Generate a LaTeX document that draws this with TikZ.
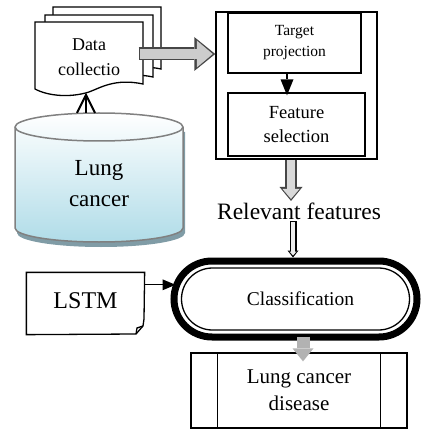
\documentclass[tikz,border=0pt]{standalone}
\usepackage{fontspec}
\setmainfont{Liberation Serif}
\usepackage{tikz}
\usetikzlibrary{shapes.misc}
\usetikzlibrary{arrows.meta}
\usetikzlibrary{positioning}
\usetikzlibrary{calc}
\definecolor{lungblue}{RGB}{176,220,232}
\definecolor{dbshadow}{RGB}{128,156,166}
\tikzset{every picture/.style={line width=1.3pt}}

\begin{document}
\begin{tikzpicture}[x=1pt,y=-1pt,
txt/.style={align=center,inner sep=0pt},
page/.style={draw,fill=white,line width=1.3pt},
box/.style={draw,fill=white,line width=1.3pt,align=center,inner sep=0pt},
stadium/.style={rounded rectangle,draw,align=center,inner sep=0pt},
fatout/.style={draw=gray!55!black,line width=13pt,-{Triangle[length=21pt,width=34pt,line width=0pt]}},
fatin/.style={draw=gray!40,line width=10pt,shorten <=1.5pt,shorten >=2.5pt,-{Triangle[length=16pt,width=27pt,line width=0pt]}}]
\useasboundingbox (0,0) rectangle (421,430);

% data collection, three pages
\foreach \dx/\dy in {18/-15,10/-7,0/0}{
\draw[page,shift={(\dx,\dy)}] (35,22) -- (143,22) -- (143,84) .. controls (115,78) and (100,88) .. (89,92) .. controls (70,98) and (48,96) .. (35,89) -- cycle;
}
\node[txt,minimum width=108,minimum height=70,font=\fontsize{18}{25}\selectfont] (dc) at (89,57) {Data\\collectio};

% lung cancer database
\fill[dbshadow,shift={(2,5)}] (15,127) -- (15,228) arc[start angle=180,end angle=360,x radius=84pt,y radius=14pt] -- (183,127) -- cycle;
\shade[top color=white,bottom color=lungblue,draw=gray,line width=1.5pt] (15,127) -- (15,228) arc[start angle=180,end angle=360,x radius=84pt,y radius=14pt] -- (183,127) arc[start angle=0,end angle=180,x radius=84pt,y radius=14pt] -- cycle;
\draw[gray,line width=1.5pt] (15,127) arc[start angle=180,end angle=360,x radius=84pt,y radius=14pt];
\node[txt,font=\fontsize{23}{31}\selectfont] (db) at (99,184) {Lung\\cancer};
\coordinate (dbtop) at (86,113);
\draw[line width=2pt,-{Straight Barb[length=18pt,width=18pt]}] (dbtop) -- (dbtop |- dc.south);

% feature selection block
\node[draw,line width=1.5pt,minimum width=161,minimum height=147] (fs) at (296.5,85.5) {};
\node[box,minimum width=133,minimum height=60,font=\fontsize{15.5}{21}\selectfont] (proj) at (294.5,43) {Target\\projection};
\node[box,minimum width=137,minimum height=63,font=\fontsize{18.5}{24}\selectfont] (feat) at (296.5,124.5) {Feature\\selection};
\draw[-{Triangle[length=16pt,width=13pt,line width=0pt]}] ($(proj.south)+(-7.5,0)$) -- ($(feat.north)+(-9.5,3)$);

\coordinate (dcout) at ($(dc.east)+(-5,-3)$);
\draw[fatout] (dcout) -- (dcout -| fs.west);
\draw[fatin] (dcout) -- (dcout -| fs.west);

\node[font=\fontsize{23.5}{28}\selectfont,inner sep=1pt] (rel) at (299,211) {Relevant features};
\coordinate (fsout) at ($(fs.south)+(-5.5,0)$);
\draw[draw=gray!55!black,line width=12pt,-{Triangle[length=14pt,width=23pt,line width=0pt]}] (fsout) -- (fsout |- rel.north);
\draw[draw=gray!30,line width=8pt,shorten >=2pt,-{Triangle[length=10pt,width=17pt,line width=0pt]}] (fsout) -- (fsout |- rel.north);

% classification
\node[stadium,line width=7pt,minimum width=243,minimum height=76] (cls) at (295.5,299) {};
\node[stadium,line width=1.3pt,minimum width=228,minimum height=62,font=\fontsize{19.5}{24}\selectfont] (clsin) at (cls.center) {\hspace{10pt}Classification};
\coordinate (relout) at ($(rel.south)+(-6,0)$);
\draw[line width=7pt,-{Triangle[length=7pt,width=11pt,line width=0pt]}] (relout) -- (relout |- cls.north);
\draw[gray!15,line width=4.6pt,shorten <=1pt,shorten >=2pt,-{Triangle[length=4pt,width=7pt,line width=0pt]}] (relout) -- (relout |- cls.north);

% lstm
\node[txt,minimum width=117,minimum height=61,font=\fontsize{24}{28}\selectfont] (lstm) at (85.5,303.5) {\raisebox{5pt}{LSTM}};
\draw (lstm.north west) -- (lstm.north east) -- (144,319) -- (143,326) -- (136,334) -- (lstm.south west) -- cycle;
\draw (136,334) -- (137,328) -- (143,326);
\coordinate (lstmout) at ($(lstm.north east)!0.2!(lstm.south east)$);
\draw[-{Triangle[length=13pt,width=11pt,line width=0pt]}] (lstmout) -- ($(lstmout -| cls.west)+(5,0)$);

% lung cancer disease
\node[box,minimum width=216,minimum height=75,font=\fontsize{21}{27}\selectfont] (dis) at (299,390.5) {Lung cancer\\disease};
\draw[line width=1pt] ($(dis.north west)+(27,0)$) -- ($(dis.south west)+(27,0)$);
\draw[line width=1pt] ($(dis.north east)+(-27,0)$) -- ($(dis.south east)+(-27,0)$);
\coordinate (clsout) at ($(cls.south)+(7.5,-4)$);
\draw[draw=gray!60,line width=13pt,-{Triangle[length=13pt,width=21pt,line width=0pt]}] (clsout) -- ($(dis.north)+(4,9)$);
\end{tikzpicture}
\end{document}
